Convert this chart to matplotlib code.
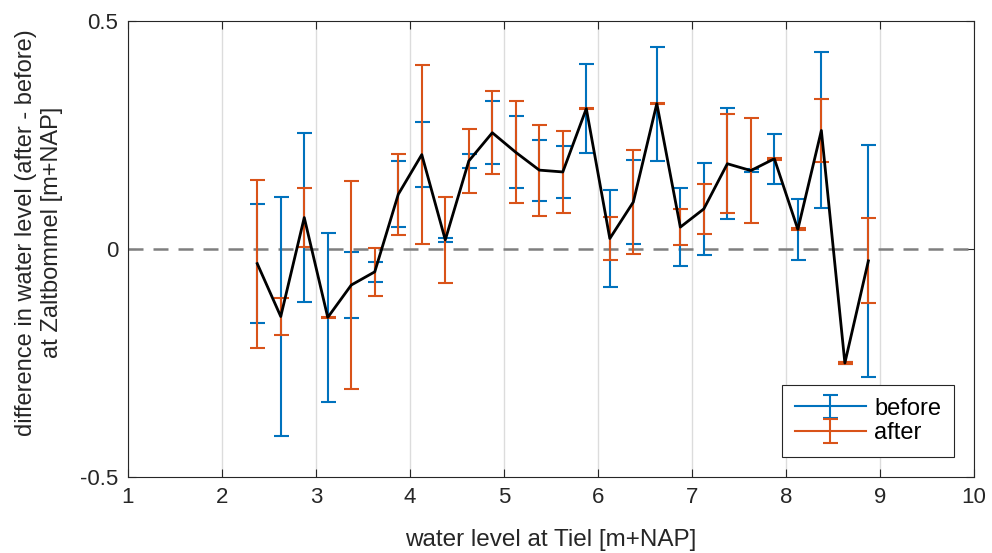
import numpy as np
import matplotlib
matplotlib.use("Agg")
import matplotlib.pyplot as plt

# Bin centres of water level at Tiel [m+NAP]
tiel_level = [2.375, 2.625, 2.875, 3.125, 3.375, 3.625, 3.875, 4.125, 4.375,
              4.625, 4.875, 5.125, 5.375, 5.625, 5.875, 6.125, 6.375, 6.625,
              6.875, 7.125, 7.375, 7.625, 7.875, 8.125, 8.375, 8.625, 8.875]

# Mean difference in water level at Zaltbommel (after - before) [m]
level_diff = [-0.032, -0.148, 0.069, -0.150, -0.079, -0.050, 0.120, 0.207, 0.020,
              0.193, 0.255, 0.212, 0.173, 0.169, 0.308, 0.023, 0.103, 0.319,
              0.048, 0.088, 0.187, 0.172, 0.198, 0.043, 0.260, -0.250, -0.026]

# Spread of the "before" period per bin [m]
err_before = [0.130, 0.262, 0.186, 0.185, 0.072, 0.022, 0.072, 0.071, 0.005,
              0.015, 0.069, 0.079, 0.067, 0.058, 0.098, 0.106, 0.092, 0.125,
              0.085, 0.101, 0.122, 0.003, 0.055, 0.067, 0.171, 0.002, 0.254]

# Spread of the "after" period per bin [m]
err_after = [0.184, 0.041, 0.064, 0.002, 0.228, 0.053, 0.089, 0.197, 0.094,
             0.070, 0.091, 0.112, 0.100, 0.090, 0.002, 0.048, 0.115, 0.002,
             0.040, 0.055, 0.109, 0.116, 0.002, 0.002, 0.070, 0.002, 0.093]

x_ticks = [1, 2, 3, 4, 5, 6, 7, 8, 9, 10]
y_ticks = [-0.5, 0, 0.5]

blue = "#0072BD"
orange = "#D95319"
ink = "#262626"

plt.rcParams["font.family"] = ["Liberation Sans", "DejaVu Sans"]

fig = plt.figure(figsize=(9.92, 5.53), dpi=100)
ax = fig.add_axes([0.129, 0.1374, 0.853, 0.8246])

ax.axhline(0, color="#7f7f7f", lw=1.8, ls=(0, (6, 4)), zorder=1)

eb_style = dict(elinewidth=1.5, capsize=5.4, capthick=1.5)
ax.errorbar(tiel_level, level_diff, yerr=err_before, fmt="none", ecolor=blue,
            zorder=2, **eb_style)
ax.errorbar(tiel_level, level_diff, yerr=err_after, fmt="none", ecolor=orange,
            zorder=3, **eb_style)
ax.plot(tiel_level, level_diff, color="black", lw=2.0, zorder=4)

# legend entries: errorbar glyph with its connecting line
h_before = ax.errorbar([np.nan], [np.nan], yerr=[0.1], fmt="-", color=blue,
                       lw=1.5, **eb_style)
h_after = ax.errorbar([np.nan], [np.nan], yerr=[0.1], fmt="-", color=orange,
                      lw=1.5, **eb_style)

ax.set_xlim(1, 10)
ax.set_ylim(-0.5, 0.5)
ax.set_xticks(x_ticks)
ax.set_xticklabels([str(t) for t in x_ticks])
ax.set_yticks(y_ticks)
ax.set_yticklabels(["-0.5", "0", "0.5"])

ax.grid(axis="x", color="#dcdcdc", lw=1.0)
ax.set_axisbelow(True)

ax.tick_params(direction="in", length=6, width=0.8, colors=ink,
               labelsize=16, top=True, right=True, pad=7)
for sp in ax.spines.values():
    sp.set_color(ink)
    sp.set_linewidth(0.8)

ax.set_xlabel("water level at Tiel [m+NAP]", fontsize=17.5, color=ink)
ax.xaxis.set_label_coords(0.5, -0.115)
ax.set_ylabel("difference in water level (after - before)\nat Zaltbommel [m+NAP]",
              fontsize=17, color=ink, linespacing=1.25)
ax.yaxis.set_label_coords(-0.077, 0.537)

leg = ax.legend([h_before, h_after], ["before", "after"], loc="lower right",
                fontsize=17, frameon=True, fancybox=False, edgecolor=ink,
                framealpha=1, handlelength=3.0, borderaxespad=0.85,
                labelspacing=0.1, handletextpad=0.35, borderpad=0.55)
leg.get_frame().set_linewidth(0.8)
for t in leg.get_texts():
    t.set_color("black")

fig.savefig("out.png", dpi=100)
